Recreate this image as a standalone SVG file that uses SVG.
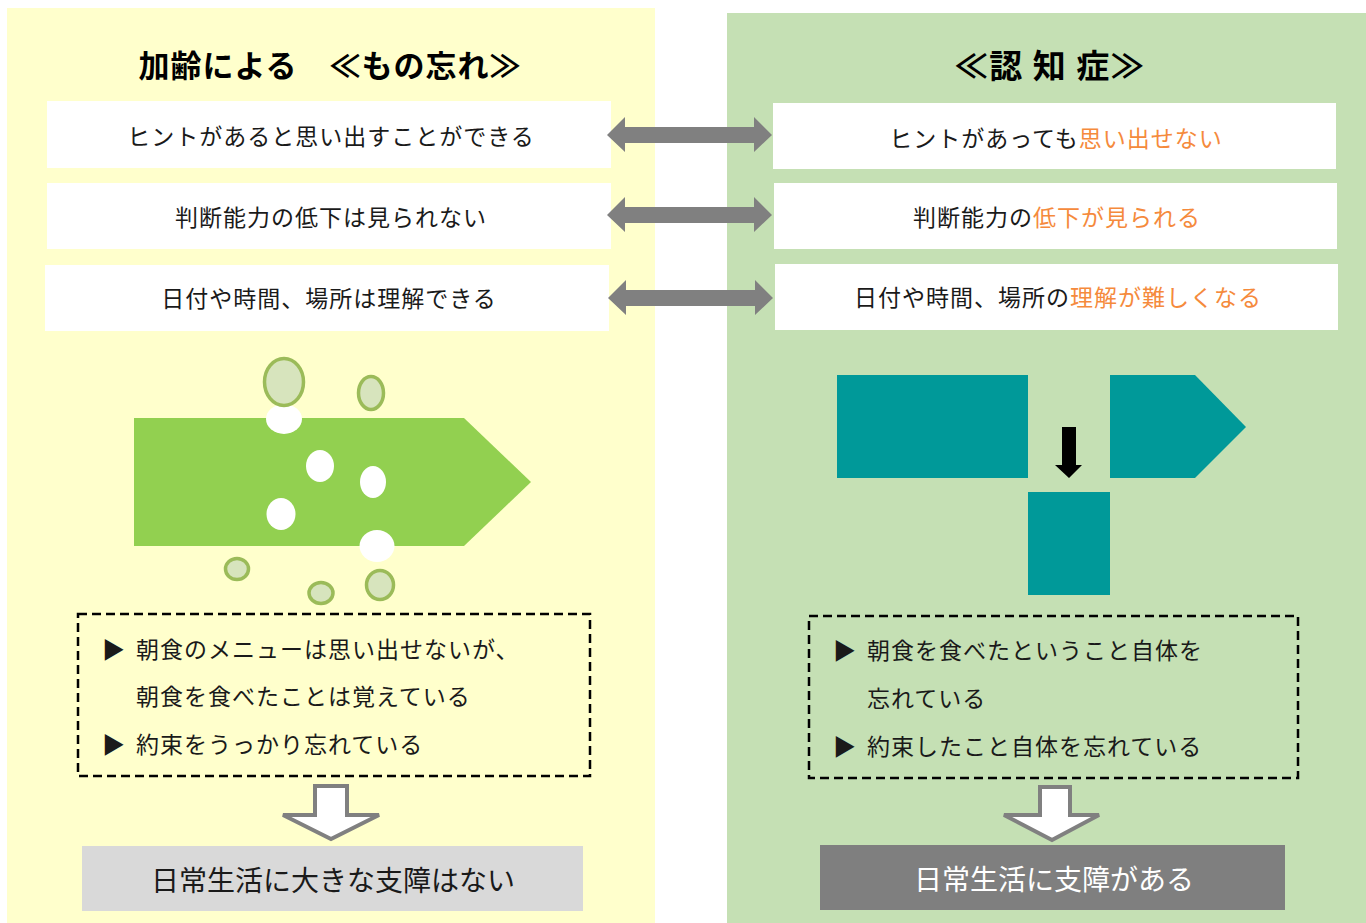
<svg xmlns="http://www.w3.org/2000/svg" width="1366" height="923" viewBox="0 0 1366 923">
<style>
text{font-family:"Noto Sans CJK JP","Noto Sans CJK SC",sans-serif;dominant-baseline:central;fill:#1a1a1a}
.title{font-size:33px;font-weight:700;letter-spacing:1.5px;text-anchor:middle;fill:#000}
.box{fill:#fff}
.bt{font-size:23px;letter-spacing:1px;text-anchor:middle}
.li{font-size:23px;letter-spacing:1px}
.or{fill:#F58A3C}
.dash{fill:none;stroke:#000;stroke-width:2.5;stroke-dasharray:9 5}
.dbl{fill:#808080}
.down{fill:#fff;stroke:#808080;stroke-width:4;stroke-linejoin:miter}
.teal{fill:#009999}
.wh{fill:#fff}
.bub{fill:#D7E4BD;stroke:#9BBB59;stroke-width:3.5}
.res{font-size:28px;letter-spacing:0px;text-anchor:middle}
</style>
<rect width="1366" height="923" fill="#fff"/>
<g id="panel-left"><rect x="7" y="8" width="648" height="915" fill="#FFFFCC"/></g>
<g id="panel-right"><rect x="727" y="13" width="639" height="910" fill="#C5E0B4"/></g>

<g id="title-left"><text class="title" x="330" y="63" style="font-size:31px;letter-spacing:1px">加齢による　≪もの忘れ≫</text></g>
<g id="title-right"><text class="title" x="1050" y="64">≪認 知 症≫</text></g>

<g id="l1"><rect class="box" x="47" y="101" width="564" height="67"/><text class="bt" x="331" y="135">ヒントがあると思い出すことができる</text></g>
<g id="l2"><rect class="box" x="47" y="183" width="564" height="66"/><text class="bt" x="331" y="216">判断能力の低下は見られない</text></g>
<g id="l3"><rect class="box" x="45" y="265" width="564" height="66"/><text class="bt" x="329" y="297">日付や時間、場所は理解できる</text></g>

<g id="r1"><rect class="box" x="773" y="103" width="563" height="66"/><text class="bt" x="1056" y="137">ヒントがあっても<tspan class="or">思い出せない</tspan></text></g>
<g id="r2"><rect class="box" x="774" y="183" width="563" height="66"/><text class="bt" x="1057" y="216">判断能力の<tspan class="or">低下が見られる</tspan></text></g>
<g id="r3"><rect class="box" x="775" y="264" width="563" height="66"/><text class="bt" x="1058" y="296">日付や時間、場所の<tspan class="or">理解が難しくなる</tspan></text></g>

<g id="connectors">
<polygon class="dbl" points="607,135 625,117 625,127 754,127 754,117 772,135 754,152 754,143 625,143 625,152"/>
<polygon class="dbl" points="607,215 625,197 625,207 754,207 754,197 772,215 754,232 754,223 625,223 625,232"/>
<polygon class="dbl" points="608,298 626,280 626,290 755,290 755,280 773,298 755,315 755,306 626,306 626,315"/>
<polygon class="down" points="315,786 347,786 347,815 379,815 331,839 283,815 315,815"/>
<polygon class="down" points="1040,787 1070,787 1070,815 1099,815 1052,840 1004,815 1040,815"/>
</g>

<g id="illustration-left">
<polygon fill="#92D050" points="134,418 464,418 531,482 464,546 134,546"/>
<ellipse class="wh" cx="284" cy="419" rx="18" ry="15"/>
<ellipse class="wh" cx="320" cy="466" rx="14" ry="16"/>
<ellipse class="wh" cx="373" cy="482" rx="13" ry="16"/>
<ellipse class="wh" cx="281" cy="514" rx="14.5" ry="16"/>
<ellipse class="wh" cx="377" cy="546" rx="17.5" ry="16"/>
<ellipse class="bub" cx="284" cy="382" rx="19.5" ry="23.5"/>
<ellipse class="bub" cx="371" cy="393" rx="12.5" ry="16.5"/>
<ellipse class="bub" cx="237" cy="569" rx="11.5" ry="10.5"/>
<ellipse class="bub" cx="321" cy="593" rx="12" ry="10.5"/>
<ellipse class="bub" cx="380" cy="585" rx="13.5" ry="14.5"/>
</g>

<g id="illustration-right">
<rect class="teal" x="837" y="375" width="191" height="103"/>
<polygon class="teal" points="1110,375 1195,375 1246,427 1195,478 1110,478"/>
<rect class="teal" x="1028" y="492" width="82" height="103"/>
<polygon fill="#000" points="1062,427 1076,427 1076,465 1082,465 1069,478 1055,465 1062,465"/>
</g>

<g id="examples-left">
<rect class="dash" x="78" y="614" width="512" height="162"/>
<text class="li" x="102" y="648" style="letter-spacing:0">▶</text>
<text class="li" x="136" y="648">朝食のメニューは思い出せないが、</text>
<text class="li" x="136" y="695">朝食を食べたことは覚えている</text>
<text class="li" x="102" y="743" style="letter-spacing:0">▶</text>
<text class="li" x="136" y="743">約束をうっかり忘れている</text>
</g>

<g id="examples-right">
<rect class="dash" x="809" y="616" width="489" height="162"/>
<text class="li" x="833" y="649" style="letter-spacing:0">▶</text>
<text class="li" x="867" y="649">朝食を食べたということ自体を</text>
<text class="li" x="867" y="697">忘れている</text>
<text class="li" x="833" y="745" style="letter-spacing:0">▶</text>
<text class="li" x="867" y="745">約束したこと自体を忘れている</text>
</g>

<g id="result-left"><rect x="82" y="846" width="501" height="65" fill="#D9D9D9"/><text class="res" x="333" y="879">日常生活に大きな支障はない</text></g>
<g id="result-right"><rect x="820" y="845" width="465" height="65" fill="#7F7F7F"/><text class="res" x="1054" y="878" style="fill:#fff">日常生活に支障がある</text></g>
</svg>
